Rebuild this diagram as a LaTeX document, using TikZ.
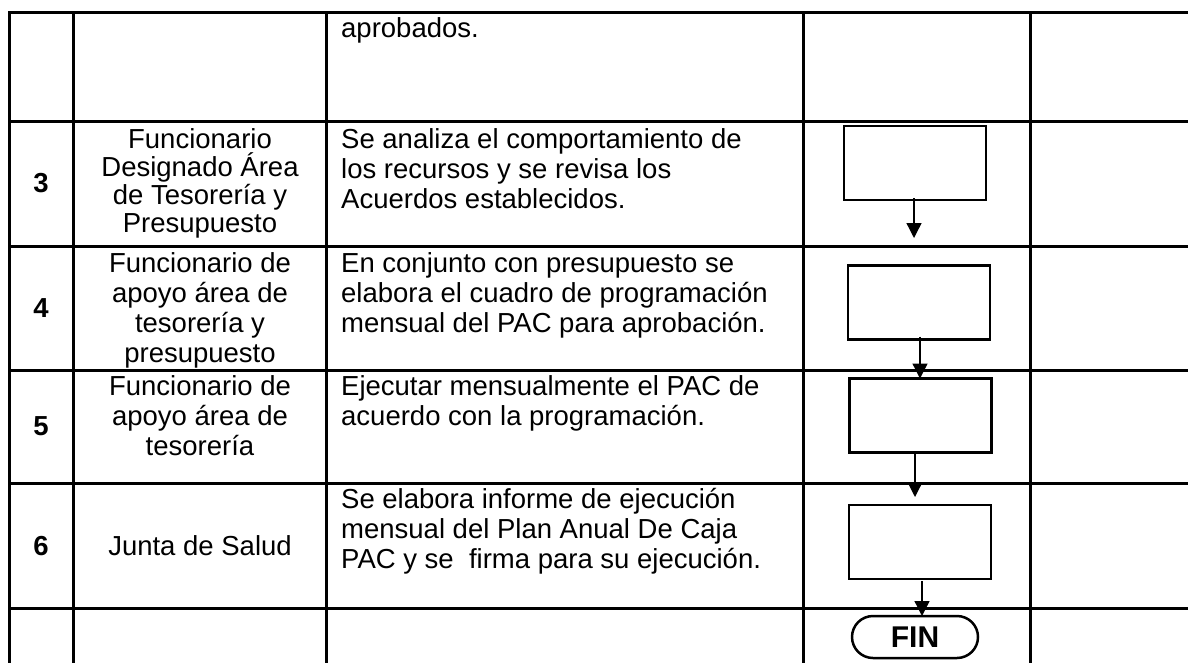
\documentclass[tikz,border=0pt]{standalone}
\usepackage{fontspec}
\setmainfont{Liberation Sans}
\usetikzlibrary{arrows.meta,shapes.misc}
\begin{document}
\begin{tikzpicture}[x=1pt,y=-1pt,
  gridline/.style={line width=3pt,line cap=rect},
  procbox/.style={draw,line width=2.7pt,minimum width=142pt,minimum height=74pt,inner sep=0pt,outer sep=0pt},
  endbox/.style={draw,rounded rectangle,line width=2.5pt,minimum width=126pt,minimum height=42pt,inner sep=0pt,outer sep=0pt,font=\fontsize{30}{36}\selectfont\bfseries},
  desc/.style={anchor=base west,inner sep=0pt,font=\fontsize{27.5}{30}\selectfont},
  who/.style={anchor=base,inner sep=0pt,font=\fontsize{27.5}{30}\selectfont},
  num/.style={anchor=base,inner sep=0pt,font=\fontsize{27.5}{30}\selectfont\bfseries},
  arr/.style={line width=1.3pt,-{Triangle[width=15pt,length=15pt]}}
]
\useasboundingbox (0,0) rectangle (1188,662);
% grid
\foreach \yy in {12,121.5,246,370,483,608}
  \draw[gridline] (9,\yy) -- (1188,\yy);
\foreach \xx in {9,73,326,803,1030}
  \draw[gridline] (\xx,12) -- (\xx,662);
% row 2 (continued)
\node[desc] (d2) at (341,37) {aprobados.};
% row 3
\node[num] (n3) at (41,192) {3};
\node[who,font=\fontsize{27.5}{28}\selectfont] (w3) at (200,148) {\parbox[t]{250pt}{\centering Funcionario\\Designado Área\\de Tesorería y\\Presupuesto}};
\node[desc] (d3) at (341,148) {\parbox[t]{455pt}{\raggedright Se analiza el comportamiento de\\los recursos y se revisa los\\Acuerdos establecidos.}};
% row 4
\node[num] (n4) at (41,317.5) {4};
\node[who] (w4) at (200,272) {\parbox[t]{250pt}{\centering Funcionario de\\apoyo área de\\tesorería y\\presupuesto}};
\node[desc] (d4) at (341,272) {\parbox[t]{455pt}{\raggedright En conjunto con presupuesto se\\elabora el cuadro de programación\\mensual del PAC para aprobación.}};
% row 5
\node[num] (n5) at (41,435) {5};
\node[who] (w5) at (200,395.5) {\parbox[t]{250pt}{\centering Funcionario de\\apoyo área de\\tesorería}};
\node[desc] (d5) at (341,395.5) {\parbox[t]{455pt}{\raggedright Ejecutar mensualmente el PAC de\\acuerdo con la programación.}};
% row 6
\node[num] (n6) at (41,555) {6};
\node[who] (w6) at (200,555) {Junta de Salud};
\node[desc] (d6) at (341,508) {\parbox[t]{455pt}{\raggedright Se elabora informe de ejecución\\mensual del Plan Anual De Caja\\PAC y se\ \ firma para su ejecución.}};
% flow boxes
\node[procbox] (b3) at (915,163) {};
\node[procbox] (b4) at (919,302.5) {};
\node[procbox] (b5) at (920.7,415.5) {};
\node[procbox] (b6) at (920,542) {};
\node[endbox] (fin) at (915,637) {FIN};
% connectors
\coordinate (t3) at (914,238);
\draw[arr] ([xshift=-1pt,yshift=2pt]b3.south) -- (t3);
\draw[arr] ([xshift=1pt,yshift=3pt]b4.south) -- ([xshift=-0.7pt]b5.north);
\coordinate (t5) at (915,497);
\draw[arr] ([xshift=-5.7pt]b5.south) -- (t5);
\draw[arr] ([xshift=2pt,yshift=-2pt]b6.south) -- ([xshift=7pt]fin.north);
\end{tikzpicture}
\end{document}
